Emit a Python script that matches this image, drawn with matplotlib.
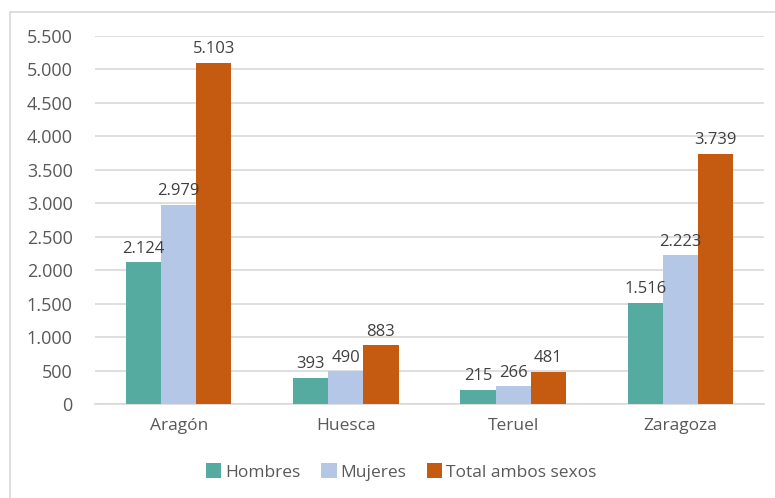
import matplotlib
matplotlib.use("Agg")
import matplotlib.pyplot as plt
from matplotlib.patches import Rectangle
import numpy as np

categories = ["Aragón", "Huesca", "Teruel", "Zaragoza"]
series_names = ["Hombres", "Mujeres", "Total ambos sexos"]
hombres = [2124, 393, 215, 1516]
mujeres = [2979, 490, 266, 2223]
total = [5103, 883, 481, 3739]
yticks = [0, 500, 1000, 1500, 2000, 2500, 3000, 3500, 4000, 4500, 5000, 5500]

colors = ["#55AB9F", "#B4C7E7", "#C55A11"]
txt = "#595959"
font = ["Open Sans", "DejaVu Sans"]
plt.rcParams['font.family'] = font

W, H = 775, 498
fig = plt.figure(figsize=(W/100, H/100), dpi=100)
ax = fig.add_axes([95/W, 1-404/H, (764-95)/W, (404-36)/H])

# chart frame
fig.patches.append(Rectangle((10/W, -0.05), 1.0, 1-12/H+0.05, transform=fig.transFigure,
                             fill=False, edgecolor="#D9D9D9", linewidth=1.2))

def fmt(v):
    return f"{v:,}".replace(",", ".")

x = np.arange(len(categories))
bw = 0.21
for i, (vals, name, c) in enumerate(zip([hombres, mujeres, total], series_names, colors)):
    pos = x + (i - 1) * bw
    ax.bar(pos, vals, width=bw, color=c, label=name, zorder=3)
    for p, v in zip(pos, vals):
        ax.text(p, v + 80, fmt(v), ha="center", va="bottom", fontsize=12, color="#404040", zorder=4)

ax.set_xlim(-0.5, len(categories) - 0.5)
ax.set_ylim(0, 5500)
ax.set_yticks(yticks)
ax.set_yticklabels([fmt(t) for t in yticks], fontsize=13, color=txt)
ax.set_xticks(x)
ax.set_xticklabels(categories, fontsize=12.5, color=txt)
ax.tick_params(axis="both", length=0)
ax.tick_params(axis="y", pad=16)
ax.tick_params(axis="x", pad=10)
ax.grid(axis="y", color="#D9D9D9", linewidth=1.2, zorder=0)
for s in ["top", "right", "left"]:
    ax.spines[s].set_visible(False)
ax.spines["bottom"].set_color("#D9D9D9")
ax.spines["bottom"].set_linewidth(1.2)

leg = fig.legend(loc="center", bbox_to_anchor=(401/W, 1-472/H), ncol=3, frameon=False,
                 fontsize=12.5, handlelength=0.9, handleheight=0.9, handletextpad=0.2,
                 columnspacing=1.2)
for t in leg.get_texts():
    t.set_color(txt)

fig.savefig("out.png", dpi=100)
